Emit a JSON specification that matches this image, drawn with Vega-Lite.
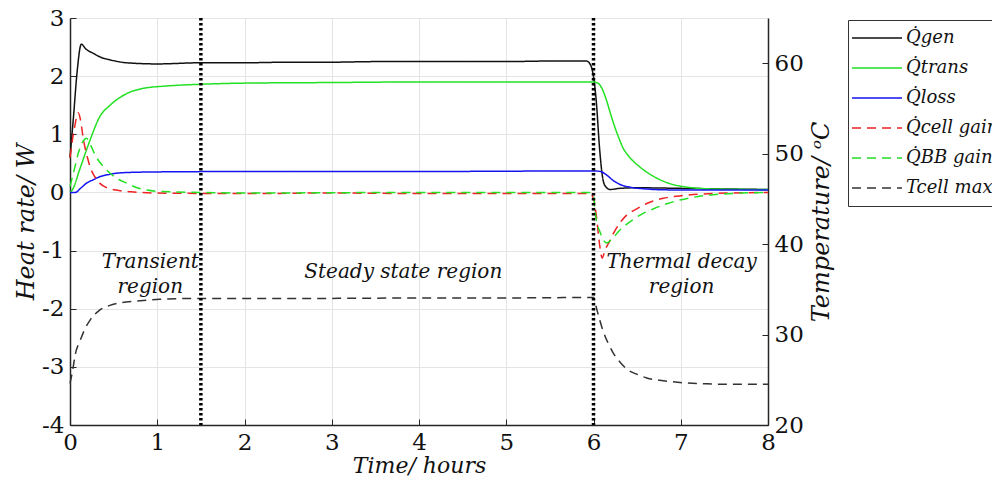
{
  "$schema": "https://vega.github.io/schema/vega-lite/v6.json",
  "width": 698,
  "height": 407,
  "autosize": {"type": "none"},
  "padding": {"left": 70, "top": 18, "right": 224, "bottom": 60},
  "background": "white",
  "config": {
    "view": {"stroke": null},
    "axis": {
      "labelFont": "DejaVu Serif",
      "labelFontSize": 23,
      "labelColor": "#111",
      "labelFlush": false,
      "titleFont": "DejaVu Serif",
      "titleFontStyle": "italic",
      "titleFontWeight": "normal",
      "titleFontSize": 22,
      "titleColor": "#111",
      "domainColor": "#262626",
      "domainWidth": 1.5,
      "tickColor": "#262626",
      "tickSize": -6,
      "labelPadding": 12,
      "gridColor": "#e4e4e4",
      "gridWidth": 1
    },
    "legend": {
      "labelFont": "DejaVu Serif",
      "labelFontStyle": "italic",
      "labelFontSize": 18,
      "labelColor": "#111"
    }
  },
  "datasets": {
    "heat": [
      {"t": 0, "v": 0.6, "s": "Q̇gen"},
      {"t": 0.04, "v": 1.3, "s": "Q̇gen"},
      {"t": 0.08, "v": 2.05, "s": "Q̇gen"},
      {"t": 0.13, "v": 2.55, "s": "Q̇gen"},
      {"t": 0.18, "v": 2.47, "s": "Q̇gen"},
      {"t": 0.27, "v": 2.39, "s": "Q̇gen"},
      {"t": 0.36, "v": 2.32, "s": "Q̇gen"},
      {"t": 0.46, "v": 2.28, "s": "Q̇gen"},
      {"t": 0.65, "v": 2.23, "s": "Q̇gen"},
      {"t": 1.0, "v": 2.21, "s": "Q̇gen"},
      {"t": 1.5, "v": 2.23, "s": "Q̇gen"},
      {"t": 2.0, "v": 2.23, "s": "Q̇gen"},
      {"t": 2.5, "v": 2.24, "s": "Q̇gen"},
      {"t": 3.0, "v": 2.24, "s": "Q̇gen"},
      {"t": 3.5, "v": 2.25, "s": "Q̇gen"},
      {"t": 4.0, "v": 2.25, "s": "Q̇gen"},
      {"t": 4.5, "v": 2.25, "s": "Q̇gen"},
      {"t": 5.0, "v": 2.25, "s": "Q̇gen"},
      {"t": 5.5, "v": 2.26, "s": "Q̇gen"},
      {"t": 5.92, "v": 2.26, "s": "Q̇gen"},
      {"t": 5.97, "v": 2.18, "s": "Q̇gen"},
      {"t": 6.03, "v": 1.6, "s": "Q̇gen"},
      {"t": 6.07, "v": 0.75, "s": "Q̇gen"},
      {"t": 6.1, "v": 0.3, "s": "Q̇gen"},
      {"t": 6.13, "v": 0.12, "s": "Q̇gen"},
      {"t": 6.19, "v": 0.05, "s": "Q̇gen"},
      {"t": 6.3, "v": 0.07, "s": "Q̇gen"},
      {"t": 6.5, "v": 0.08, "s": "Q̇gen"},
      {"t": 7.0, "v": 0.07, "s": "Q̇gen"},
      {"t": 7.5, "v": 0.06, "s": "Q̇gen"},
      {"t": 8.0, "v": 0.05, "s": "Q̇gen"},

      {"t": 0, "v": 0, "s": "Q̇trans"},
      {"t": 0.03, "v": 0.05, "s": "Q̇trans"},
      {"t": 0.11, "v": 0.39, "s": "Q̇trans"},
      {"t": 0.23, "v": 0.9, "s": "Q̇trans"},
      {"t": 0.34, "v": 1.3, "s": "Q̇trans"},
      {"t": 0.46, "v": 1.5, "s": "Q̇trans"},
      {"t": 0.65, "v": 1.7, "s": "Q̇trans"},
      {"t": 0.84, "v": 1.79, "s": "Q̇trans"},
      {"t": 1.1, "v": 1.83, "s": "Q̇trans"},
      {"t": 1.5, "v": 1.86, "s": "Q̇trans"},
      {"t": 2.0, "v": 1.88, "s": "Q̇trans"},
      {"t": 3.0, "v": 1.89, "s": "Q̇trans"},
      {"t": 4.0, "v": 1.9, "s": "Q̇trans"},
      {"t": 5.0, "v": 1.9, "s": "Q̇trans"},
      {"t": 6.0, "v": 1.9, "s": "Q̇trans"},
      {"t": 6.05, "v": 1.88, "s": "Q̇trans"},
      {"t": 6.1, "v": 1.78, "s": "Q̇trans"},
      {"t": 6.15, "v": 1.58, "s": "Q̇trans"},
      {"t": 6.2, "v": 1.33, "s": "Q̇trans"},
      {"t": 6.25, "v": 1.1, "s": "Q̇trans"},
      {"t": 6.3, "v": 0.9, "s": "Q̇trans"},
      {"t": 6.34, "v": 0.76, "s": "Q̇trans"},
      {"t": 6.4, "v": 0.63, "s": "Q̇trans"},
      {"t": 6.53, "v": 0.44, "s": "Q̇trans"},
      {"t": 6.72, "v": 0.25, "s": "Q̇trans"},
      {"t": 6.99, "v": 0.11, "s": "Q̇trans"},
      {"t": 7.37, "v": 0.06, "s": "Q̇trans"},
      {"t": 8.0, "v": 0.05, "s": "Q̇trans"},

      {"t": 0, "v": 0, "s": "Q̇loss"},
      {"t": 0.06, "v": 0.0, "s": "Q̇loss"},
      {"t": 0.12, "v": 0.07, "s": "Q̇loss"},
      {"t": 0.19, "v": 0.16, "s": "Q̇loss"},
      {"t": 0.27, "v": 0.22, "s": "Q̇loss"},
      {"t": 0.34, "v": 0.27, "s": "Q̇loss"},
      {"t": 0.45, "v": 0.31, "s": "Q̇loss"},
      {"t": 0.53, "v": 0.33, "s": "Q̇loss"},
      {"t": 0.7, "v": 0.345, "s": "Q̇loss"},
      {"t": 0.84, "v": 0.35, "s": "Q̇loss"},
      {"t": 1.2, "v": 0.355, "s": "Q̇loss"},
      {"t": 2.0, "v": 0.36, "s": "Q̇loss"},
      {"t": 4.0, "v": 0.36, "s": "Q̇loss"},
      {"t": 6.0, "v": 0.37, "s": "Q̇loss"},
      {"t": 6.08, "v": 0.36, "s": "Q̇loss"},
      {"t": 6.15, "v": 0.3, "s": "Q̇loss"},
      {"t": 6.23, "v": 0.2, "s": "Q̇loss"},
      {"t": 6.3, "v": 0.14, "s": "Q̇loss"},
      {"t": 6.42, "v": 0.09, "s": "Q̇loss"},
      {"t": 6.6, "v": 0.06, "s": "Q̇loss"},
      {"t": 6.8, "v": 0.045, "s": "Q̇loss"},
      {"t": 7.2, "v": 0.04, "s": "Q̇loss"},
      {"t": 8.0, "v": 0.04, "s": "Q̇loss"},

      {"t": 0, "v": 0.6, "s": "Q̇cell gain"},
      {"t": 0.05, "v": 1.1, "s": "Q̇cell gain"},
      {"t": 0.095, "v": 1.37, "s": "Q̇cell gain"},
      {"t": 0.12, "v": 1.25, "s": "Q̇cell gain"},
      {"t": 0.155, "v": 0.9, "s": "Q̇cell gain"},
      {"t": 0.2, "v": 0.6, "s": "Q̇cell gain"},
      {"t": 0.23, "v": 0.44, "s": "Q̇cell gain"},
      {"t": 0.28, "v": 0.28, "s": "Q̇cell gain"},
      {"t": 0.34, "v": 0.16, "s": "Q̇cell gain"},
      {"t": 0.42, "v": 0.08, "s": "Q̇cell gain"},
      {"t": 0.53, "v": 0.04, "s": "Q̇cell gain"},
      {"t": 0.7, "v": 0.01, "s": "Q̇cell gain"},
      {"t": 1.0, "v": -0.01, "s": "Q̇cell gain"},
      {"t": 2.0, "v": -0.02, "s": "Q̇cell gain"},
      {"t": 3.0, "v": -0.01, "s": "Q̇cell gain"},
      {"t": 4.0, "v": -0.02, "s": "Q̇cell gain"},
      {"t": 5.0, "v": -0.02, "s": "Q̇cell gain"},
      {"t": 5.95, "v": -0.02, "s": "Q̇cell gain"},
      {"t": 6.0, "v": -0.1, "s": "Q̇cell gain"},
      {"t": 6.04, "v": -0.5, "s": "Q̇cell gain"},
      {"t": 6.07, "v": -0.9, "s": "Q̇cell gain"},
      {"t": 6.1, "v": -1.13, "s": "Q̇cell gain"},
      {"t": 6.13, "v": -1.0, "s": "Q̇cell gain"},
      {"t": 6.18, "v": -0.85, "s": "Q̇cell gain"},
      {"t": 6.23, "v": -0.7, "s": "Q̇cell gain"},
      {"t": 6.3, "v": -0.53, "s": "Q̇cell gain"},
      {"t": 6.38, "v": -0.39, "s": "Q̇cell gain"},
      {"t": 6.5, "v": -0.28, "s": "Q̇cell gain"},
      {"t": 6.61, "v": -0.19, "s": "Q̇cell gain"},
      {"t": 6.8, "v": -0.1, "s": "Q̇cell gain"},
      {"t": 6.99, "v": -0.06, "s": "Q̇cell gain"},
      {"t": 7.37, "v": -0.02, "s": "Q̇cell gain"},
      {"t": 8.0, "v": 0.0, "s": "Q̇cell gain"},

      {"t": 0, "v": 0.1, "s": "Q̇BB gain"},
      {"t": 0.05, "v": 0.4, "s": "Q̇BB gain"},
      {"t": 0.1, "v": 0.7, "s": "Q̇BB gain"},
      {"t": 0.15, "v": 0.88, "s": "Q̇BB gain"},
      {"t": 0.19, "v": 0.93, "s": "Q̇BB gain"},
      {"t": 0.24, "v": 0.8, "s": "Q̇BB gain"},
      {"t": 0.3, "v": 0.61, "s": "Q̇BB gain"},
      {"t": 0.38, "v": 0.45, "s": "Q̇BB gain"},
      {"t": 0.46, "v": 0.33, "s": "Q̇BB gain"},
      {"t": 0.55, "v": 0.23, "s": "Q̇BB gain"},
      {"t": 0.65, "v": 0.16, "s": "Q̇BB gain"},
      {"t": 0.75, "v": 0.09, "s": "Q̇BB gain"},
      {"t": 0.88, "v": 0.04, "s": "Q̇BB gain"},
      {"t": 1.0, "v": 0.02, "s": "Q̇BB gain"},
      {"t": 1.5, "v": 0.0, "s": "Q̇BB gain"},
      {"t": 2.0, "v": -0.01, "s": "Q̇BB gain"},
      {"t": 4.0, "v": 0.0, "s": "Q̇BB gain"},
      {"t": 5.95, "v": 0.0, "s": "Q̇BB gain"},
      {"t": 6.0, "v": -0.05, "s": "Q̇BB gain"},
      {"t": 6.02, "v": -0.35, "s": "Q̇BB gain"},
      {"t": 6.08, "v": -0.7, "s": "Q̇BB gain"},
      {"t": 6.15, "v": -0.87, "s": "Q̇BB gain"},
      {"t": 6.2, "v": -0.82, "s": "Q̇BB gain"},
      {"t": 6.3, "v": -0.65, "s": "Q̇BB gain"},
      {"t": 6.45, "v": -0.47, "s": "Q̇BB gain"},
      {"t": 6.57, "v": -0.36, "s": "Q̇BB gain"},
      {"t": 6.69, "v": -0.28, "s": "Q̇BB gain"},
      {"t": 6.85, "v": -0.19, "s": "Q̇BB gain"},
      {"t": 6.99, "v": -0.13, "s": "Q̇BB gain"},
      {"t": 7.2, "v": -0.07, "s": "Q̇BB gain"},
      {"t": 7.37, "v": -0.04, "s": "Q̇BB gain"},
      {"t": 7.7, "v": -0.01, "s": "Q̇BB gain"},
      {"t": 8.0, "v": 0.0, "s": "Q̇BB gain"}
    ],
    "temp": [
      {"t": 0, "T": 24.6, "s": "Tcell max"},
      {"t": 0.03, "T": 26.0, "s": "Tcell max"},
      {"t": 0.06, "T": 27.8, "s": "Tcell max"},
      {"t": 0.115, "T": 29.3, "s": "Tcell max"},
      {"t": 0.17, "T": 30.6, "s": "Tcell max"},
      {"t": 0.23, "T": 31.6, "s": "Tcell max"},
      {"t": 0.34, "T": 32.7, "s": "Tcell max"},
      {"t": 0.45, "T": 33.2, "s": "Tcell max"},
      {"t": 0.57, "T": 33.5, "s": "Tcell max"},
      {"t": 0.75, "T": 33.7, "s": "Tcell max"},
      {"t": 1.03, "T": 33.9, "s": "Tcell max"},
      {"t": 1.49, "T": 34.0, "s": "Tcell max"},
      {"t": 2.0, "T": 34.0, "s": "Tcell max"},
      {"t": 3.0, "T": 34.0, "s": "Tcell max"},
      {"t": 4.0, "T": 34.05, "s": "Tcell max"},
      {"t": 5.0, "T": 34.05, "s": "Tcell max"},
      {"t": 6.0, "T": 34.1, "s": "Tcell max"},
      {"t": 6.04, "T": 32.7, "s": "Tcell max"},
      {"t": 6.11, "T": 30.4, "s": "Tcell max"},
      {"t": 6.17, "T": 29.0, "s": "Tcell max"},
      {"t": 6.23, "T": 27.9, "s": "Tcell max"},
      {"t": 6.3, "T": 27.0, "s": "Tcell max"},
      {"t": 6.38, "T": 26.2, "s": "Tcell max"},
      {"t": 6.5, "T": 25.6, "s": "Tcell max"},
      {"t": 6.61, "T": 25.2, "s": "Tcell max"},
      {"t": 6.8, "T": 24.9, "s": "Tcell max"},
      {"t": 6.99, "T": 24.7, "s": "Tcell max"},
      {"t": 7.3, "T": 24.55, "s": "Tcell max"},
      {"t": 7.56, "T": 24.5, "s": "Tcell max"},
      {"t": 8.0, "T": 24.5, "s": "Tcell max"}
    ],
    "regions": [{"t": 1.5}, {"t": 6.0}],
    "notes": [
      {"t": 0.92, "v": -1.2, "label": "Transient\nregion"},
      {"t": 3.82, "v": -1.37, "label": "Steady state region"},
      {"t": 7.01, "v": -1.2, "label": "Thermal decay\nregion"}
    ]
  },
  "layer": [
    {
      "data": {"name": "heat"},
      "mark": {"type": "line", "strokeWidth": 1.5, "interpolate": "monotone"},
      "encoding": {
        "x": {
          "field": "t", "type": "quantitative",
          "scale": {"domain": [0, 8], "nice": false},
          "axis": {"title": "Time/ hours", "labelFont": "DejaVu Serif", "titleFont": "DejaVu Serif", "titleFontSize": 22, "values": [0, 1, 2, 3, 4, 5, 6, 7, 8], "grid": true, "labelExpr": "toString(datum.value)", "titlePadding": 1}
        },
        "y": {
          "field": "v", "type": "quantitative",
          "scale": {"domain": [-4, 3], "nice": false, "zero": false},
          "axis": {"title": "Heat rate/ W", "labelFont": "DejaVu Serif", "titleFont": "DejaVu Serif", "titleFontSize": 24, "orient": "left", "values": [-4, -3, -2, -1, 0, 1, 2, 3], "grid": true, "labelExpr": "toString(datum.value)", "titlePadding": 3}
        },
        "color": {
          "field": "s", "type": "nominal",
          "scale": {"domain": ["Q̇gen", "Q̇trans", "Q̇loss", "Q̇cell gain", "Q̇BB gain", "Tcell max"], "range": ["#111111", "#22e022", "#1414f0", "#ee2222", "#22e022", "#333333"]},
          "legend": {"title": null, "orient": "none", "legendX": 778, "legendY": 2, "strokeColor": "#333", "fillColor": "white", "padding": 3, "symbolType": "stroke", "symbolSize": 2500, "symbolStrokeWidth": 1.5, "clipHeight": 30, "rowPadding": 0, "labelOffset": 3, "labelFont": "DejaVu Serif"}
        },
        "strokeDash": {
          "field": "s", "type": "nominal",
          "scale": {"domain": ["Q̇gen", "Q̇trans", "Q̇loss", "Q̇cell gain", "Q̇BB gain", "Tcell max"], "range": [[1, 0], [1, 0], [1, 0], [9, 6], [9, 6], [9, 6]]},
          "legend": {"title": null, "orient": "none", "legendX": 778, "legendY": 2, "strokeColor": "#333", "fillColor": "white", "padding": 3, "symbolType": "stroke", "symbolSize": 2500, "symbolStrokeWidth": 1.5, "clipHeight": 30, "rowPadding": 0, "labelOffset": 3, "labelFont": "DejaVu Serif"}
        }
      }
    },
    {
      "data": {"name": "temp"},
      "mark": {"type": "line", "strokeWidth": 1.5, "interpolate": "monotone"},
      "encoding": {
        "x": {"field": "t", "type": "quantitative", "scale": {"domain": [0, 8], "nice": false}},
        "y": {
          "field": "T", "type": "quantitative",
          "scale": {"domain": [20, 65], "nice": false, "zero": false},
          "axis": {"title": "Temperature/ ᵒC", "labelFont": "DejaVu Serif", "titleFont": "DejaVu Serif", "titleFontSize": 24, "orient": "right", "values": [20, 30, 40, 50, 60], "grid": false, "titleAngle": 270, "titlePadding": 30}
        },
        "color": {"field": "s", "type": "nominal"},
        "strokeDash": {"field": "s", "type": "nominal"}
      }
    },
    {
      "data": {"name": "regions"},
      "mark": {"type": "rule", "strokeWidth": 3.5, "strokeDash": [2.5, 2.5], "color": "#000"},
      "encoding": {
        "x": {"field": "t", "type": "quantitative", "scale": {"domain": [0, 8], "nice": false}}
      }
    },
    {
      "data": {"name": "notes"},
      "mark": {"type": "text", "font": "DejaVu Serif", "fontStyle": "italic", "fontSize": 20, "lineBreak": "\n", "lineHeight": 25, "baseline": "middle", "align": "center", "color": "#111"},
      "encoding": {
        "x": {"field": "t", "type": "quantitative", "scale": {"domain": [0, 8], "nice": false}},
        "y": {"field": "v", "type": "quantitative", "scale": {"domain": [-4, 3], "nice": false, "zero": false}, "axis": null},
        "text": {"field": "label"}
      }
    }
  ],
  "resolve": {"scale": {"y": "independent"}, "axis": {"y": "independent"}}
}
